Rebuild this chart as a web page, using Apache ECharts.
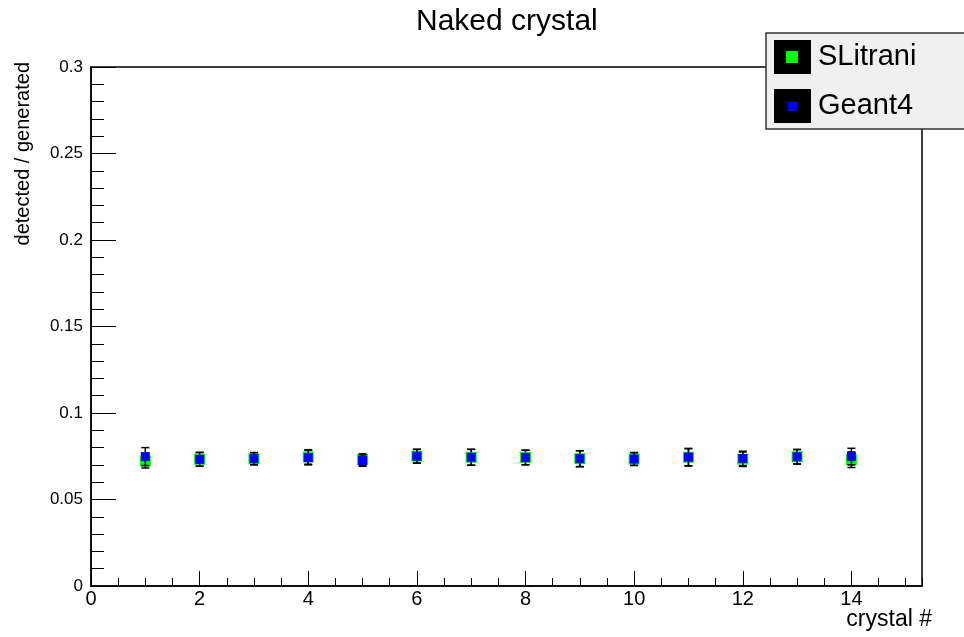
<!DOCTYPE html>
<html>
<head>
<meta charset="utf-8">
<script src="https://cdn.jsdelivr.net/npm/echarts@6/dist/echarts.min.js"></script>
<style>
html,body{margin:0;padding:0;background:#fff;}
#chart{width:964px;height:637px;}
</style>
</head>
<body>
<div id="chart"></div>
<script>
// ---- data ----
const crystals = [1, 2, 3, 4, 5, 6, 7, 8, 9, 10, 11, 12, 13, 14];
const slitrani = [0.0722, 0.0732, 0.0736, 0.0746, 0.0731, 0.0750, 0.0744, 0.0743, 0.0736, 0.0734, 0.0744, 0.0733, 0.0747, 0.0730];
const slitraniErr = [0.0040, 0.0040, 0.0035, 0.0042, 0.0033, 0.0040, 0.0046, 0.0042, 0.0046, 0.0037, 0.0050, 0.0042, 0.0042, 0.0045];
const geant4 = [0.0748, 0.0732, 0.0736, 0.0742, 0.0725, 0.0750, 0.0744, 0.0743, 0.0736, 0.0734, 0.0745, 0.0737, 0.0747, 0.0748];
const geant4Err = [0.0052, 0.0040, 0.0035, 0.0042, 0.0033, 0.0040, 0.0046, 0.0042, 0.0046, 0.0037, 0.0050, 0.0042, 0.0042, 0.0048];
const yTicks = [0, 0.05, 0.1, 0.15, 0.2, 0.25, 0.3];
const xTicks = [0, 2, 4, 6, 8, 10, 12, 14];

const FONT = '"Liberation Sans", Arial, Helvetica, sans-serif';

function pts(vals) { return crystals.map((c, i) => [c, vals[i]]); }
function errPts(vals, errs) { return crystals.map((c, i) => [c, vals[i], errs[i]]); }

function renderErr(params, api) {
  const x = api.value(0), y = api.value(1), e = api.value(2);
  const t = api.coord([x, y + e]);
  const b = api.coord([x, y - e]);
  const h = 4;
  const st = { stroke: '#000', lineWidth: 1.5 };
  return {
    type: 'group',
    children: [
      { type: 'line', shape: { x1: t[0], y1: t[1], x2: b[0], y2: b[1] }, style: st },
      { type: 'line', shape: { x1: t[0] - h, y1: t[1], x2: t[0] + h, y2: t[1] }, style: st },
      { type: 'line', shape: { x1: b[0] - h, y1: b[1], x2: b[0] + h, y2: b[1] }, style: st }
    ]
  };
}

const chart = echarts.init(document.getElementById('chart'), null, { renderer: 'canvas' });

chart.setOption({
  animation: false,
  backgroundColor: '#fff',
  title: {
    text: 'Naked crystal',
    left: 416,
    top: 7,
    padding: 0,
    textStyle: { fontFamily: FONT, fontSize: 30, fontWeight: 'normal', color: '#000' }
  },
  grid: {
    left: 91, right: 42, top: 67, bottom: 51,
    show: true, borderColor: '#000', borderWidth: 1.5, backgroundColor: 'transparent'
  },
  legend: {
    orient: 'vertical',
    left: 766,
    top: 33,
    padding: [7, 80, 6, 8],
    itemGap: 15,
    itemWidth: 37,
    itemHeight: 34,
    icon: 'rect',
    backgroundColor: '#f0f0f0',
    borderColor: '#333',
    borderWidth: 1.5,
    itemStyle: { color: '#000', borderWidth: 0 },
    textStyle: { fontFamily: FONT, fontSize: 29, color: '#000', padding: [4, 0, 0, 2] },
    data: [
      { name: 'SLitrani', itemStyle: { color: '#000' } },
      { name: 'Geant4', itemStyle: { color: '#000' } }
    ]
  },
  graphic: [
    { type: 'rect', z: 100, shape: { x: 786, y: 51, width: 12, height: 12 }, style: { fill: '#00ff00' } },
    { type: 'rect', z: 100, shape: { x: 788, y: 102, width: 9, height: 9 }, style: { fill: '#0000ff' } },
    {
      type: 'text', z: 100, x: 23, y: 62, rotation: Math.PI / 2,
      style: { text: 'detected / generated', fontFamily: FONT, fontSize: 20, fill: '#000', align: 'right', verticalAlign: 'middle' }
    },
    {
      type: 'text', z: 100, x: 932, y: 620,
      style: { text: 'crystal #', fontFamily: FONT, fontSize: 23, fill: '#000', align: 'right', verticalAlign: 'middle' }
    }
  ],
  xAxis: [
    {
      type: 'value', min: 0, max: 15.3, interval: 2, position: 'bottom',
      axisLine: { show: true, lineStyle: { color: '#000', width: 1.5 } },
      axisTick: { show: true, inside: true, length: 15, lineStyle: { color: '#000', width: 1 } },
      axisLabel: {
        showMaxLabel: false, color: '#000', fontFamily: FONT, fontSize: 20, margin: 3,
        formatter: v => (xTicks.indexOf(v) >= 0 ? String(v) : '')
      },
      splitLine: { show: false }
    },
    {
      type: 'value', min: 0, max: 15.3, interval: 0.5, position: 'bottom',
      axisLine: { show: false },
      axisTick: { show: true, inside: true, length: 8, lineStyle: { color: '#000', width: 1 } },
      axisLabel: { show: false },
      splitLine: { show: false }
    }
  ],
  yAxis: {
    type: 'value', min: 0, max: 0.3, interval: 0.05,
    axisLine: { show: true, lineStyle: { color: '#000', width: 1.5 } },
    axisTick: { show: true, inside: true, length: 25, lineStyle: { color: '#000', width: 1 } },
    minorTick: { show: true, splitNumber: 5, length: 13, lineStyle: { color: '#000', width: 1 } },
    axisLabel: {
      color: '#000', fontFamily: FONT, fontSize: 17, margin: 8,
      formatter: v => {
        const m = yTicks.find(t => Math.abs(t - v) < 1e-9);
        return m === undefined ? '' : String(m);
      }
    },
    splitLine: { show: false }
  },
  series: [
    {
      name: 'SLitrani err', type: 'custom', xAxisIndex: 0, renderItem: renderErr,
      data: errPts(slitrani, slitraniErr), z: 2, silent: true
    },
    {
      name: 'SLitrani', type: 'scatter', xAxisIndex: 0, symbol: 'rect', symbolSize: 11,
      itemStyle: { color: '#00ff00', opacity: 1 }, data: pts(slitrani), z: 3
    },
    {
      name: 'Geant4 err', type: 'custom', xAxisIndex: 0, renderItem: renderErr,
      data: errPts(geant4, geant4Err), z: 4, silent: true
    },
    {
      name: 'Geant4', type: 'scatter', xAxisIndex: 0, symbol: 'rect', symbolSize: 9,
      itemStyle: { color: '#0000ff', opacity: 1 }, data: pts(geant4), z: 5
    }
  ]
});
</script>
</body>
</html>
